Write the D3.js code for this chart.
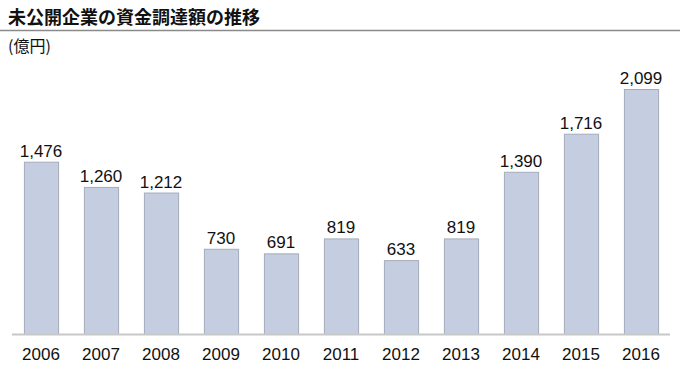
<!DOCTYPE html>
<meta charset="utf-8">
<style>
body { margin: 0; background: #fff; }
</style>
<body>
<svg width="680" height="371"></svg>
<script src="https://d3js.org/d3.v7.min.js"></script>
<script>

var years = ["2006","2007","2008","2009","2010","2011","2012","2013","2014","2015","2016"];
var amounts = [1476, 1260, 1212, 730, 691, 819, 633, 819, 1390, 1716, 2099];

var svg = d3.select("svg"),
    baseY = 334,
    topY = 89;

var x = d3.scaleBand()
    .domain(years)
    .range([11, 671])
    .paddingInner(0.43)
    .paddingOuter(0.215);

var y = d3.scaleLinear()
    .domain([0, 2099])
    .range([baseY, topY]);

// title
svg.append("text")
    .attr("x", 8)
    .attr("y", 24)
    .attr("font-family", "Noto Sans CJK JP")
    .attr("font-weight", "bold")
    .attr("font-size", 18)
    .attr("fill", "#111")
    .text("未公開企業の資金調達額の推移");

svg.append("line")
    .attr("x1", 0).attr("x2", 680)
    .attr("y1", 30.5).attr("y2", 30.5)
    .attr("stroke", "#8a8a8a")
    .attr("stroke-width", 1.5);

svg.append("text")
    .attr("x", 8)
    .attr("y", 52)
    .attr("font-family", "Noto Sans CJK JP")
    .attr("font-size", 16)
    .attr("fill", "#111")
    .text("(億円)");

var data = years.map(function(d, i) { return {year: d, value: amounts[i]}; });

svg.append("g")
  .selectAll("rect")
  .data(data)
  .enter().append("rect")
    .attr("x", function(d) { return x(d.year) + 0.5; })
    .attr("y", function(d) { return y(d.value) + 0.5; })
    .attr("width", x.bandwidth())
    .attr("height", function(d) { return baseY - y(d.value); })
    .attr("fill", "#c4cee0")
    .attr("stroke", "#a3acbd")
    .attr("stroke-width", 1);

svg.append("g")
  .selectAll("text")
  .data(data)
  .enter().append("text")
    .attr("x", function(d) { return x(d.year) + x.bandwidth() / 2; })
    .attr("y", function(d) { return y(d.value) - 5; })
    .attr("text-anchor", "middle")
    .attr("font-family", "Liberation Sans, Arial, sans-serif")
    .attr("font-size", 17)
    .attr("fill", "#111")
    .text(function(d) { return d3.format(",")(d.value); });

// baseline axis
var axis = svg.append("g")
    .attr("transform", "translate(0," + baseY + ")")
    .call(d3.axisBottom(x).tickSize(0).tickPadding(14));

axis.select(".domain")
    .attr("d", "M12,0.5H670")
    .attr("stroke", "#c8c8c8")
    .attr("stroke-width", 2);

axis.selectAll("text")
    .attr("font-family", "Liberation Sans, Arial, sans-serif")
    .attr("font-size", 17)
    .attr("fill", "#111");

</script>
</body>
